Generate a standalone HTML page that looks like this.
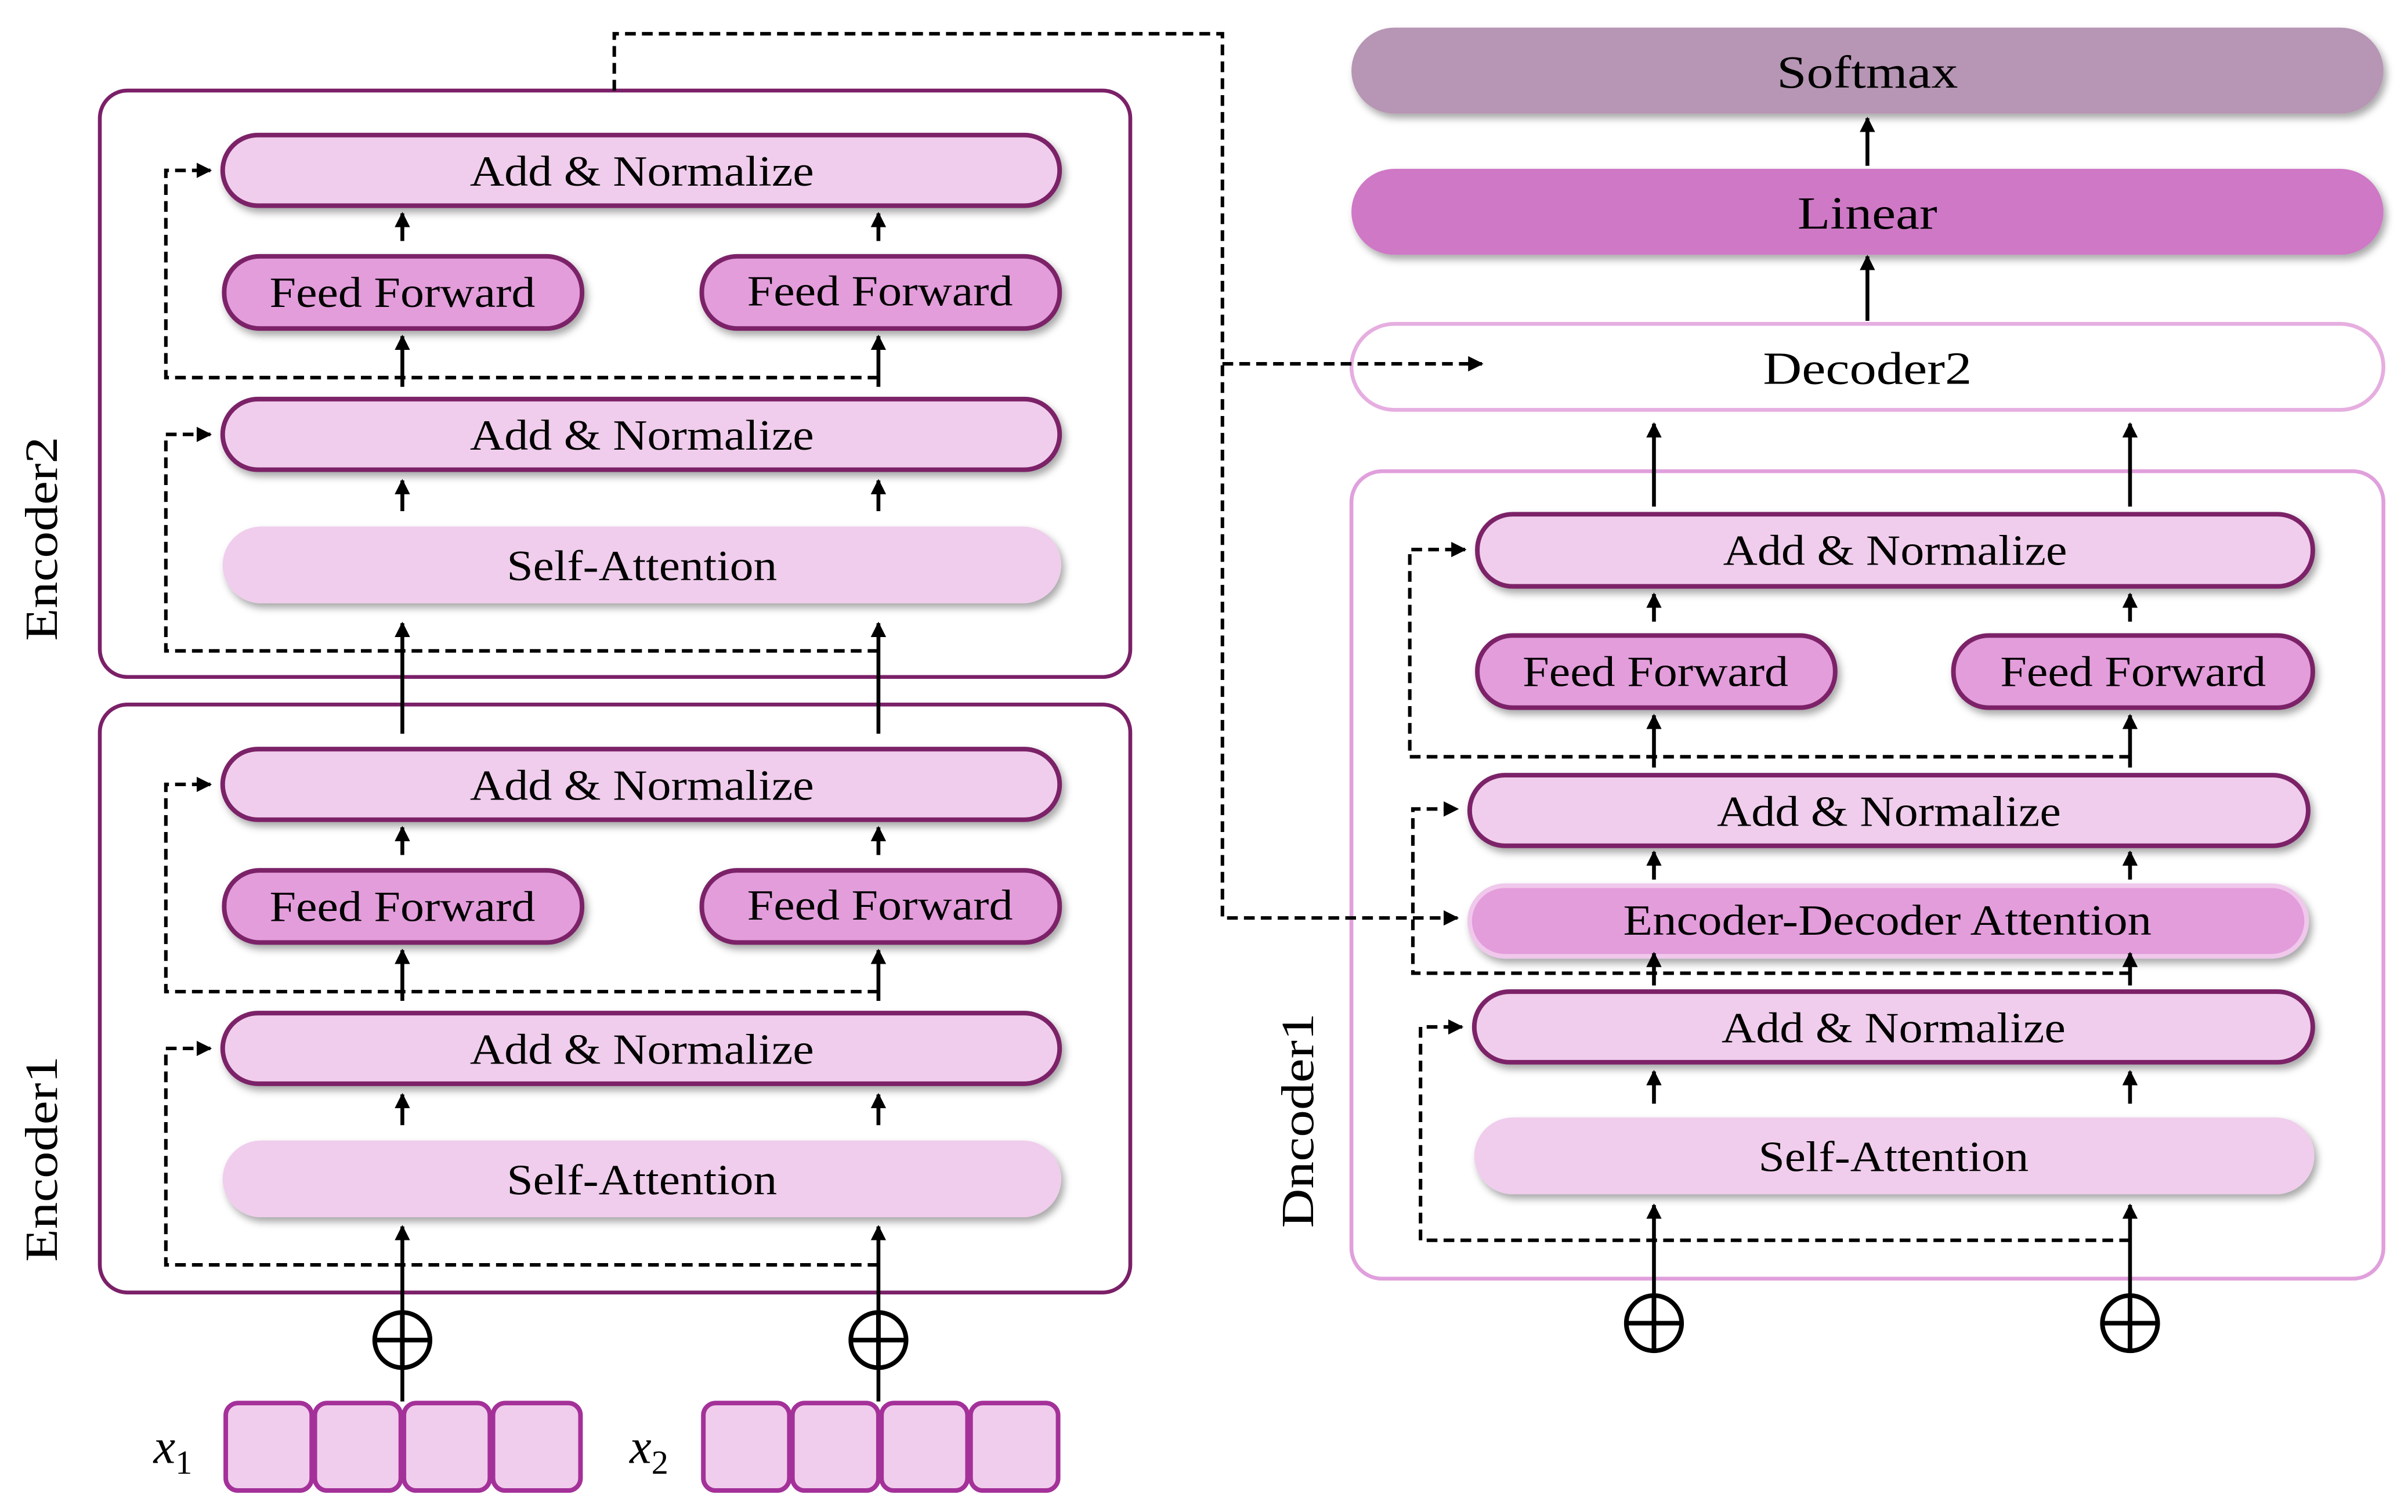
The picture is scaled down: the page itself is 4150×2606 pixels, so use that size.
<!DOCTYPE html>
<html><head><meta charset="utf-8"><style>html,body{margin:0;padding:0;background:#fff}svg{display:block}</style></head>
<body>
<svg width="4150" height="2606" viewBox="0 0 1568 985" preserveAspectRatio="none" xmlns="http://www.w3.org/2000/svg" font-family="'Liberation Serif', serif">
<defs>
<filter id="sh" x="-5%" y="-30%" width="110%" height="170%"><feDropShadow dx="2" dy="3" stdDeviation="2.5" flood-color="#000" flood-opacity="0.35"/></filter>
<marker id="ah" markerWidth="10" markerHeight="10" refX="9" refY="5" orient="auto" markerUnits="userSpaceOnUse"><path d="M0,0 L10,5 L0,10 z" fill="#000"/></marker>
</defs>
<g fill="none" stroke-linecap="butt">
<rect x="65" y="59" width="671" height="382" rx="18" stroke="#7b2068" stroke-width="2.5"/>
<rect x="65" y="459" width="671" height="383" rx="18" stroke="#7b2068" stroke-width="2.5"/>
<rect x="880" y="307" width="672" height="526" rx="20" stroke="#e0a0dc" stroke-width="2.5"/>
</g>
<rect x="880" y="18" width="672" height="56" rx="28" fill="#b795b4" filter="url(#sh)"/>
<rect x="880" y="110" width="672" height="56" rx="28" fill="#cf78c6" filter="url(#sh)"/>
<rect x="880" y="211" width="672" height="56" rx="28" fill="#fff" stroke="#e6aee0" stroke-width="2.5"/>
<g font-size="30" text-anchor="middle" fill="#000" lengthAdjust="spacingAndGlyphs">
<text x="1216" y="57" textLength="118" lengthAdjust="spacingAndGlyphs">Softmax</text>
<text x="1216" y="149" textLength="91" lengthAdjust="spacingAndGlyphs">Linear</text>
<text x="1216" y="250" textLength="136" lengthAdjust="spacingAndGlyphs">Decoder2</text>
</g>

<g id="enc">
<rect x="145" y="88" width="545" height="46" rx="23" fill="#f0cdec" stroke="#7b2068" stroke-width="3" filter="url(#sh)"/>
<rect x="146" y="167" width="233" height="47" rx="23" fill="#e39ddb" stroke="#7b2068" stroke-width="3" filter="url(#sh)"/>
<rect x="457" y="167" width="233" height="47" rx="23" fill="#e39ddb" stroke="#7b2068" stroke-width="3" filter="url(#sh)"/>
<rect x="145" y="260" width="545" height="46" rx="23" fill="#f0cdec" stroke="#7b2068" stroke-width="3" filter="url(#sh)"/>
<rect x="145" y="343" width="546" height="50" rx="25" fill="#f0cdec" filter="url(#sh)"/>
<g font-size="28" text-anchor="middle" fill="#000">
<text x="418" y="121" textLength="224" lengthAdjust="spacingAndGlyphs">Add &amp; Normalize</text>
<text x="262" y="200" textLength="173" lengthAdjust="spacingAndGlyphs">Feed Forward</text>
<text x="573" y="199" textLength="173" lengthAdjust="spacingAndGlyphs">Feed Forward</text>
<text x="418" y="293" textLength="224" lengthAdjust="spacingAndGlyphs">Add &amp; Normalize</text>
<text x="418" y="378" textLength="176" lengthAdjust="spacingAndGlyphs">Self-Attention</text>
</g>
<g stroke="#000" stroke-width="2.5">
<line x1="262" y1="157" x2="262" y2="139" marker-end="url(#ah)"/>
<line x1="572" y1="157" x2="572" y2="139" marker-end="url(#ah)"/>
<line x1="262" y1="252" x2="262" y2="219" marker-end="url(#ah)"/>
<line x1="572" y1="252" x2="572" y2="219" marker-end="url(#ah)"/>
<line x1="262" y1="333" x2="262" y2="313" marker-end="url(#ah)"/>
<line x1="572" y1="333" x2="572" y2="313" marker-end="url(#ah)"/>
</g>
<g stroke="#000" stroke-width="2.3" stroke-dasharray="7,4" fill="none">
<polyline points="572,246 108,246 108,111 137,111" marker-end="url(#ah)"/>
<polyline points="572,424 108,424 108,283 137,283" marker-end="url(#ah)"/>
</g>
</g>
<use href="#enc" y="400"/>

<g stroke="#000" stroke-width="2.5">
<line x1="262" y1="478" x2="262" y2="406" marker-end="url(#ah)"/>
<line x1="572" y1="478" x2="572" y2="406" marker-end="url(#ah)"/>
<line x1="262" y1="855" x2="262" y2="799" marker-end="url(#ah)"/>
<line x1="572" y1="855" x2="572" y2="799" marker-end="url(#ah)"/>
<line x1="1077" y1="844" x2="1077" y2="785" marker-end="url(#ah)"/>
<line x1="1387" y1="844" x2="1387" y2="785" marker-end="url(#ah)"/>
</g>
<g stroke="#000" stroke-width="3" fill="#fff">
<circle cx="262" cy="873" r="18"/><circle cx="572" cy="873" r="18"/>
<circle cx="1077" cy="862" r="18"/><circle cx="1387" cy="862" r="18"/>
</g>
<g stroke="#000" stroke-width="3">
<line x1="244" y1="873" x2="280" y2="873"/><line x1="554" y1="873" x2="590" y2="873"/>
<line x1="1059" y1="862" x2="1095" y2="862"/><line x1="1369" y1="862" x2="1405" y2="862"/>
<line x1="262" y1="855" x2="262" y2="891"/><line x1="572" y1="855" x2="572" y2="891"/>
<line x1="1077" y1="844" x2="1077" y2="880"/><line x1="1387" y1="844" x2="1387" y2="880"/>
</g>

<g fill="#f0cdec" stroke="#a43199" stroke-width="3">
<rect x="147" y="914" width="56" height="57" rx="8"/><rect x="205" y="914" width="56" height="57" rx="8"/>
<rect x="263" y="914" width="56" height="57" rx="8"/><rect x="321" y="914" width="57" height="57" rx="8"/>
<rect x="458" y="914" width="56" height="57" rx="8"/><rect x="516" y="914" width="56" height="57" rx="8"/>
<rect x="574" y="914" width="56" height="57" rx="8"/><rect x="632" y="914" width="57" height="57" rx="8"/>
</g>
<line x1="262" y1="891" x2="262" y2="913" stroke="#000" stroke-width="2.5"/>
<line x1="572" y1="891" x2="572" y2="913" stroke="#000" stroke-width="2.5"/>
<g font-size="32" font-style="italic" fill="#000">
<text x="100" y="953">x<tspan font-size="22" font-style="normal" dy="7">1</tspan></text>
<text x="410" y="953">x<tspan font-size="22" font-style="normal" dy="7">2</tspan></text>
</g>
<g font-size="30" fill="#000" text-anchor="middle">
<text transform="translate(37,351) rotate(-90)" textLength="133" lengthAdjust="spacingAndGlyphs">Encoder2</text>
<text transform="translate(37,755) rotate(-90)" textLength="134" lengthAdjust="spacingAndGlyphs">Encoder1</text>
<text transform="translate(855,730) rotate(-90)" textLength="140" lengthAdjust="spacingAndGlyphs">Dncoder1</text>
</g>

<rect x="962" y="335" width="544" height="47" rx="23" fill="#f0cdec" stroke="#7b2068" stroke-width="3" filter="url(#sh)"/>
<rect x="962" y="414" width="233" height="47" rx="23" fill="#e39ddb" stroke="#7b2068" stroke-width="3" filter="url(#sh)"/>
<rect x="1272" y="414" width="234" height="47" rx="23" fill="#e39ddb" stroke="#7b2068" stroke-width="3" filter="url(#sh)"/>
<rect x="957" y="505" width="546" height="46" rx="23" fill="#f0cdec" stroke="#7b2068" stroke-width="3" filter="url(#sh)"/>
<rect x="957" y="577" width="545" height="46" rx="23" fill="#e39ddb" stroke="#f0c8ec" stroke-width="3" filter="url(#sh)"/>
<rect x="960" y="646" width="546" height="46" rx="23" fill="#f0cdec" stroke="#7b2068" stroke-width="3" filter="url(#sh)"/>
<rect x="960" y="728" width="547" height="50" rx="25" fill="#f0cdec" filter="url(#sh)"/>
<g font-size="28" text-anchor="middle" fill="#000">
<text x="1234" y="368" textLength="224" lengthAdjust="spacingAndGlyphs">Add &amp; Normalize</text>
<text x="1078" y="447" textLength="173" lengthAdjust="spacingAndGlyphs">Feed Forward</text>
<text x="1389" y="447" textLength="173" lengthAdjust="spacingAndGlyphs">Feed Forward</text>
<text x="1230" y="538" textLength="224" lengthAdjust="spacingAndGlyphs">Add &amp; Normalize</text>
<text x="1229" y="609" textLength="344" lengthAdjust="spacingAndGlyphs">Encoder-Decoder Attention</text>
<text x="1233" y="679" textLength="224" lengthAdjust="spacingAndGlyphs">Add &amp; Normalize</text>
<text x="1233" y="763" textLength="176" lengthAdjust="spacingAndGlyphs">Self-Attention</text>
</g>
<g stroke="#000" stroke-width="2.5">
<line x1="1077" y1="330" x2="1077" y2="276" marker-end="url(#ah)"/>
<line x1="1387" y1="330" x2="1387" y2="276" marker-end="url(#ah)"/>
<line x1="1077" y1="405" x2="1077" y2="387" marker-end="url(#ah)"/>
<line x1="1387" y1="405" x2="1387" y2="387" marker-end="url(#ah)"/>
<line x1="1077" y1="500" x2="1077" y2="466" marker-end="url(#ah)"/>
<line x1="1387" y1="500" x2="1387" y2="466" marker-end="url(#ah)"/>
<line x1="1077" y1="573" x2="1077" y2="555" marker-end="url(#ah)"/>
<line x1="1387" y1="573" x2="1387" y2="555" marker-end="url(#ah)"/>
<line x1="1077" y1="642" x2="1077" y2="621" marker-end="url(#ah)"/>
<line x1="1387" y1="642" x2="1387" y2="621" marker-end="url(#ah)"/>
<line x1="1077" y1="719" x2="1077" y2="698" marker-end="url(#ah)"/>
<line x1="1387" y1="719" x2="1387" y2="698" marker-end="url(#ah)"/>
<line x1="1216" y1="209" x2="1216" y2="167" marker-end="url(#ah)"/>
<line x1="1216" y1="108" x2="1216" y2="77" marker-end="url(#ah)"/>
</g>
<g stroke="#000" stroke-width="2.3" stroke-dasharray="7,4" fill="none">
<polyline points="1387,808 925,808 925,669 952,669" marker-end="url(#ah)"/>
<polyline points="1387,634 920,634 920,527 949,527" marker-end="url(#ah)"/>
<polyline points="1387,493 918,493 918,358 954,358" marker-end="url(#ah)"/>
<polyline points="400,59 400,22 796,22 796,598 949,598" marker-end="url(#ah)"/>
<polyline points="796,237 965,237" marker-end="url(#ah)"/>
</g>
</svg>
</body></html>
